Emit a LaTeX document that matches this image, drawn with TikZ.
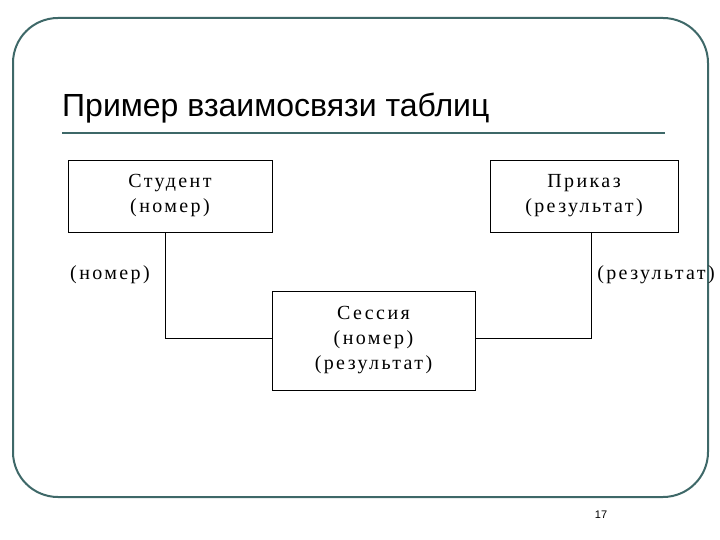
\documentclass[tikz,border=0pt]{standalone}
\usepackage{fontspec}
\setmainfont[LetterSpace=12]{Liberation Serif}
\newfontfamily\arialf{Liberation Sans}
\definecolor{frame}{RGB}{62,104,104}
\begin{document}
\begin{tikzpicture}[x=1pt,y=-1pt,
  tbl/.style={draw=black,line width=0.8pt,minimum width=#1,align=center,inner sep=0pt,font=\fontsize{20}{25}\selectfont},
  lbl/.style={font=\fontsize{20}{24}\selectfont,inner sep=0pt},
  conn/.style={draw=black,line width=0.8pt}]
\useasboundingbox (0,0) rectangle (720,540);
\fill[white] (0,0) rectangle (720,540);
\draw[frame,line width=2pt,rounded corners=45pt] (13,18) rectangle (708,497);
\node[anchor=west,inner sep=0pt,font=\arialf\fontsize{32}{36}\selectfont] (title) at (62,108) {Пример взаимосвязи таблиц};
\draw[frame,line width=2pt] (62,133) -- (665,133);
\node[tbl=204pt,minimum height=72pt] (st) at (170,196) {Студент\\(номер)};
\node[tbl=188pt,minimum height=72pt] (pr) at (584,196) {Приказ\\(результат)};
\node[tbl=203pt,minimum height=99pt] (se) at (373.5,340.5) {Сессия\\(номер)\\(результат)};
\coordinate (c1) at (165,338);
\coordinate (c2) at (591,338);
\draw[conn] (st.south -| c1) -- (c1) -- (c1 -| se.west);
\draw[conn] (pr.south -| c2) -- (c2) -- (c2 -| se.east);
\node[lbl] (l1) at (110,275) {(номер)};
\node[lbl] (l2) at (656,275) {(результат)};
\node[font=\arialf\fontsize{11}{13}\selectfont] (pg) at (601,515) {17};
\end{tikzpicture}
\end{document}
